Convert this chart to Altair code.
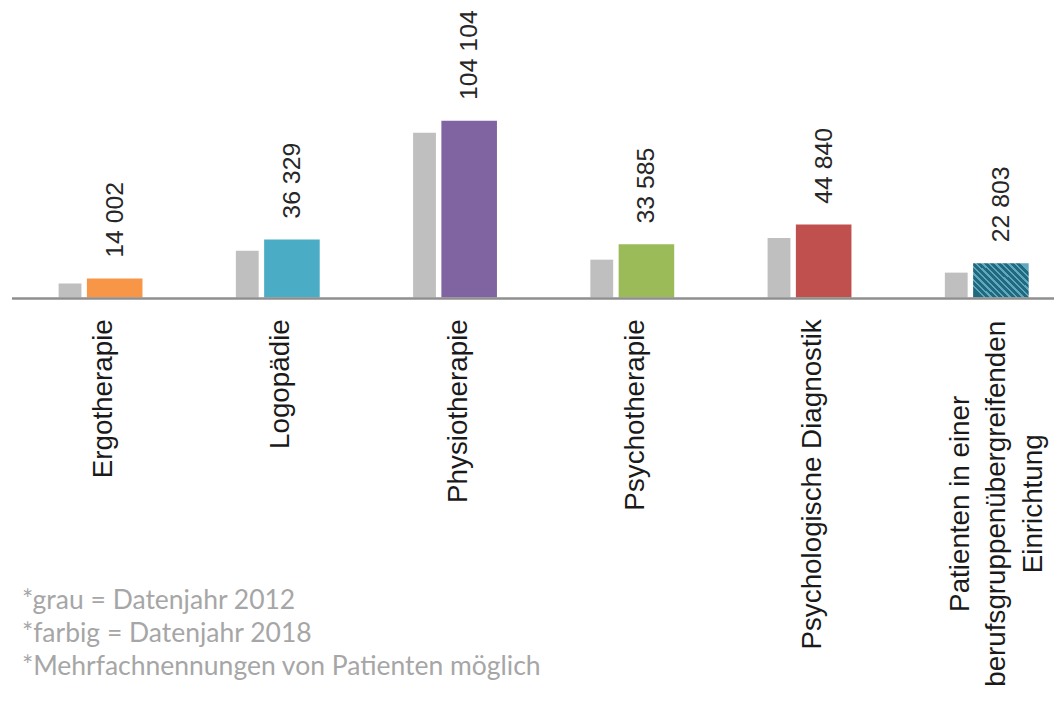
import altair as alt
import pandas as pd

categories = ["Ergotherapie", "Logopädie", "Physiotherapie", "Psychotherapie",
              "Psychologische Diagnostik",
              "Patienten in einer berufsgruppenübergreifenden Einrichtung"]
values_2012 = [11200, 29900, 97300, 24800, 37200, 17400]
values_2018 = [14002, 36329, 104104, 33585, 44840, 22803]
labels_2018 = ["14 002", "36 329", "104 104", "33 585", "44 840", "22 803"]
colors_2018 = ["#F79646", "#4BACC6", "#8064A2", "#9BBB59", "#C0504D", "#2A7A90"]
axis_labels = ["Ergotherapie", "Logopädie", "Physiotherapie", "Psychotherapie",
               "Psychologische Diagnostik"]
last_label = ["Patienten in einer", "berufsgruppenübergreifenden", "Einrichtung"]
footnotes = ["*grau = Datenjahr 2012", "*farbig = Datenjahr 2018",
             "*Mehrfachnennungen von Patienten möglich"]
axis_base = 3237  # value at the drawn baseline

df = pd.DataFrame({
    "cat": categories,
    "v2012": values_2012,
    "v2018": values_2018,
    "lab": labels_2018,
    "col": colors_2018,
})
df_axis = pd.DataFrame({"cat": categories[:5], "name": axis_labels})
df_last = pd.DataFrame({"cat": [categories[5]]})
df_last["name"] = [last_label]

W, H = 1054, 687
xs = alt.Scale(domain=categories, range=[3.7, 1075.3], paddingInner=0, paddingOuter=0)
ys = alt.Scale(domain=[-222259, 166994], zero=False, nice=False)
X = alt.X("cat:N", scale=xs, axis=None, sort=categories)

gray_bars = alt.Chart(df).mark_bar(width=23, xOffset=-30.5, color="#BFBFBF").encode(
    x=X, y=alt.Y("v2012:Q", scale=ys, axis=None), y2=alt.datum(axis_base))

color_bars = alt.Chart(df.iloc[:5]).mark_bar(width=56, xOffset=14.5).encode(
    x=X, y=alt.Y("v2018:Q", scale=ys, axis=None), y2=alt.datum(axis_base),
    color=alt.Color("col:N", scale=None))

dark, light = "#21697E", "#5FA8BE"
stops = []
n = 12
for k in range(n):
    a, b, c = k / n, (k + 0.62) / n, (k + 1) / n
    stops += [alt.GradientStop(color=dark, offset=a), alt.GradientStop(color=dark, offset=b),
              alt.GradientStop(color=light, offset=b), alt.GradientStop(color=light, offset=c)]
hatch = alt.LinearGradient(gradient="linear", stops=stops, x1=0, x2=1, y1=0.8125, y2=0.1875)

hatched_bar = alt.Chart(df.iloc[5:]).mark_bar(width=56, xOffset=14.5, fill=hatch).encode(
    x=X, y=alt.Y("v2018:Q", scale=ys, axis=None), y2=alt.datum(axis_base))

value_text = alt.Chart(df).mark_text(
    angle=270, align="left", baseline="middle", xOffset=14.5, yOffset=-21,
    font="Liberation Sans", fontSize=25, color="#262626").encode(
    x=X, y=alt.Y("v2018:Q", scale=ys, axis=None), text="lab:N")

baseline = alt.Chart(pd.DataFrame({"a": [0]})).mark_rule(
    color="#8F8F8F", strokeWidth=2.5).encode(
    x=alt.value(4), x2=alt.value(W), y=alt.value(290))

cat_text = alt.Chart(df_axis).mark_text(
    angle=270, align="right", baseline="alphabetic", xOffset=12,
    font="Liberation Sans", fontSize=28, color="#1A1A1A").encode(
    x=X, y=alt.value(311), text="name:N")

last_text = alt.Chart(df_last).mark_text(
    angle=270, align="center", baseline="alphabetic", xOffset=-18, lineHeight=37,
    font="Liberation Sans", fontSize=28, color="#1A1A1A").encode(
    x=X, y=alt.value(497), text="name")

foot = alt.Chart(pd.DataFrame({"a": [0]})).mark_text(
    align="left", baseline="alphabetic", lineHeight=33,
    font="Lato", fontSize=26.7, color="#A6A6A6").encode(
    x=alt.value(14), y=alt.value(603), text=alt.value(footnotes))

chart = alt.layer(gray_bars, color_bars, hatched_bar, value_text, baseline,
                  cat_text, last_text, foot).properties(
    width=W, height=H, padding=0,
    autosize=alt.AutoSizeParams(type="none"),
    background="white",
).configure_view(stroke=None)

chart.save("out.html", embed_options={"renderer": "svg", "actions": False})
